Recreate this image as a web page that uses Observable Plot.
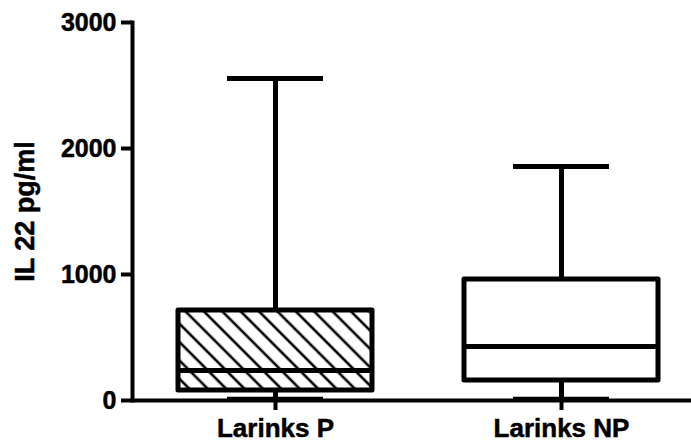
<!DOCTYPE html>
<html>
<head>
<meta charset="utf-8">
<script src="https://cdn.jsdelivr.net/npm/d3@7"></script>
<script src="https://cdn.jsdelivr.net/npm/@observablehq/plot@0.6"></script>
<style>
  html, body { margin: 0; padding: 0; background: #fff; }
  #chart svg { display: block; }
  #chart svg g[aria-label="y-axis tick label"] text { font-size: 25px !important; }
  #chart svg g[aria-label="x-axis tick label"] text { font-size: 26px !important; }
  #chart svg g[aria-label="y-axis label"] text { font-size: 27px !important; }
  #chart svg text { stroke: #000; stroke-width: 0.5px; paint-order: stroke; }
</style>
</head>
<body>
<div id="chart"></div>
<script>
// Data
const categories = ["Larinks P", "Larinks NP"];
const mins    = [10, 10];
const q1s     = [79, 159];
const medians = [238, 429];
const q3s     = [714, 960];
const maxs    = [2555, 1857];
const hatched = [true, false];
const yTicks  = [0, 1000, 2000, 3000];
const yLabel  = "IL 22 pg/ml";

const data = categories.map((c, i) => ({
  cat: c, min: mins[i], q1: q1s[i], median: medians[i], q3: q3s[i], max: maxs[i], hatched: hatched[i]
}));

const font = "'Liberation Sans', Arial, Helvetica, sans-serif";
const lw = 5;

const chart = Plot.plot({
  width: 691,
  height: 445,
  marginLeft: 132,
  marginRight: 0,
  marginTop: 22,
  marginBottom: 45,
  style: { fontFamily: font, fontWeight: "bold", fontSize: "25px", color: "#000", background: "#fff" },
  x: {
    domain: categories,
    paddingInner: 0.3217,
    paddingOuter: 0.1381,
    align: 0.582,
    label: null
  },
  y: {
    domain: [0, 3000],
    label: null
  },
  marks: [
    // whiskers
    Plot.ruleX(data, { x: "cat", y1: "q3", y2: "max", stroke: "#000", strokeWidth: lw }),
    Plot.ruleX(data, { x: "cat", y1: "min", y2: "q1", stroke: "#000", strokeWidth: lw }),
    // boxes
    Plot.barY(data.filter(d => d.hatched), { x: "cat", y1: "q1", y2: "q3", fill: "url(#hatch)", stroke: "#000", strokeWidth: lw, strokeLinejoin: "round" }),
    Plot.barY(data.filter(d => !d.hatched), { x: "cat", y1: "q1", y2: "q3", fill: "#fff", stroke: "#000", strokeWidth: lw, strokeLinejoin: "round" }),
    // medians
    Plot.tickY(data, { x: "cat", y: "median", stroke: "#000", strokeWidth: lw }),
    // caps
    Plot.tickY(data, { x: "cat", y: "max", stroke: "#000", strokeWidth: lw, insetLeft: 49, insetRight: 49 }),
    Plot.tickY(data, { x: "cat", y: "min", stroke: "#000", strokeWidth: lw, insetLeft: 49, insetRight: 49 }),
    // axes
    Plot.axisY({ ticks: yTicks, tickFormat: d => String(d), tickSize: 11, tickPadding: 5, strokeWidth: 4, fontSize: 25,
      label: yLabel, labelArrow: false, labelAnchor: "center", labelOffset: 118 }),
    Plot.axisX({ tickSize: 10, tickPadding: 8, strokeWidth: 4, fontSize: 26, label: null }),
    Plot.frame({ anchor: "left", stroke: "#000", strokeWidth: 4 }),
    Plot.ruleY([0], { stroke: "#000", strokeWidth: 4 })
  ]
});

// hatch pattern definition
const ns = "http://www.w3.org/2000/svg";
const defs = document.createElementNS(ns, "defs");
const pat = document.createElementNS(ns, "pattern");
pat.setAttribute("id", "hatch");
pat.setAttribute("patternUnits", "userSpaceOnUse");
pat.setAttribute("width", "13");
pat.setAttribute("height", "13");
pat.setAttribute("patternTransform", "rotate(-45)");
const bg = document.createElementNS(ns, "rect");
bg.setAttribute("width", "13"); bg.setAttribute("height", "13"); bg.setAttribute("fill", "#fff");
const ln = document.createElementNS(ns, "line");
ln.setAttribute("x1", "2"); ln.setAttribute("y1", "0"); ln.setAttribute("x2", "2"); ln.setAttribute("y2", "13");
ln.setAttribute("stroke", "#000"); ln.setAttribute("stroke-width", "2.6");
pat.appendChild(bg); pat.appendChild(ln);
defs.appendChild(pat);
chart.insertBefore(defs, chart.firstChild);

document.getElementById("chart").appendChild(chart);
</script>
</body>
</html>
